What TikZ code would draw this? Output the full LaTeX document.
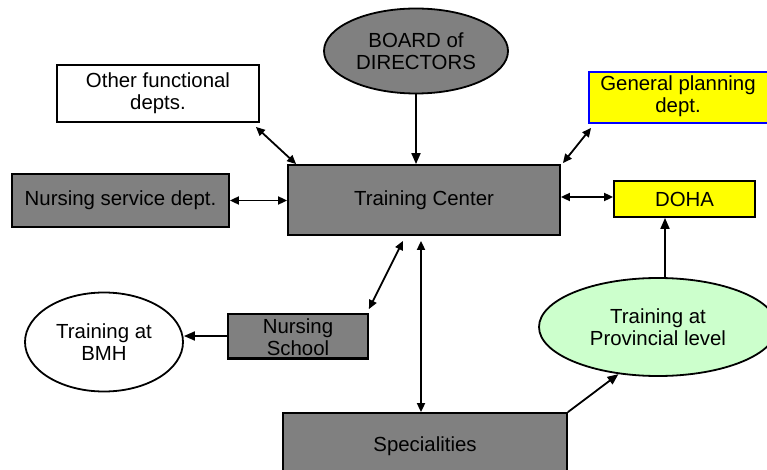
\documentclass[tikz,border=0pt]{standalone}
\usepackage{fontspec}
\setmainfont{Liberation Sans}
\usetikzlibrary{shapes.geometric,arrows.meta,calc}
\definecolor{boxgray}{HTML}{808080}
\definecolor{provgreen}{HTML}{CCFFCC}
\definecolor{dohayellow}{HTML}{FFFF00}
\definecolor{gpblue}{HTML}{0000FF}
\begin{document}
\begin{tikzpicture}[x=1pt,y=-1pt,
  every node/.style={font=\fontsize{20.4}{22}\selectfont, align=center, inner sep=0pt},
  rbox/.style={draw=black, line width=1.8pt, rectangle},
  ebox/.style={draw=black, line width=1.8pt, ellipse},
  conn/.style={line width=1.8pt, -{Triangle[length=11pt,width=9pt]}},
  biconn/.style={line width=1.8pt, {Triangle[length=9pt,width=8pt]}-{Triangle[length=9pt,width=8pt]}},
]
\useasboundingbox (0,0) rectangle (767,470);

\node[ebox, fill=boxgray, minimum width=184, minimum height=85] (bod) at (416,51) {BOARD of\\DIRECTORS};
\node[rbox, fill=boxgray, minimum width=272, minimum height=70] (tc) at (424,200) {Training Center};
\node[rbox, fill=white, minimum width=202, minimum height=57] (other) at (158,93.5) {Other functional\\depts.};
\node[rbox, fill=boxgray, minimum width=217, minimum height=53] (nsd) at (120.5,200.5) {Nursing service dept.};
\node[rbox, draw=gpblue, fill=dohayellow, minimum width=184, minimum height=51] (gp) at (681,97.5) {};
\node (gptext) at (678,96.5) {General planning\\dept.};
\node[rbox, fill=dohayellow, minimum width=141, minimum height=36] (doha) at (684.5,199) {DOHA};
\node[ebox, fill=provgreen, minimum width=238, minimum height=98] (prov) at (658,327) {Training at\\Provincial level};
\node[rbox, fill=boxgray, minimum width=140, minimum height=44] (ns) at (298,336) {};
\node (nstext) at (298,337) {Nursing\\School};
\draw[line width=1.8pt] (ns.south west) -- (ns.south east);
\node[ebox, fill=white, minimum width=158, minimum height=99] (bmh) at (104,342) {Training at\\BMH};
\node[rbox, fill=boxgray, minimum width=284, minimum height=66] (spec) at (425,446) {Specialities};

\coordinate (provtop) at ($(prov.north)+(7,0)$);

\draw[conn] (bod.south) -- (bod.south |- tc.north);
\draw[biconn] ($(other.south east)+(-4,4)$) -- ($(tc.north west)+(9,0)$);
\draw[biconn] (nsd.east) -- (nsd.east -| tc.west);
\draw[biconn] ($(gp.south west)+(3,4)$) -- ($(tc.north east)+(2,-1)$);
\draw[biconn] ($(doha.west -| tc.east)+(0,-2)$) -- ($(doha.west)+(0,-2)$);
\draw[conn] (provtop) -- (provtop |- doha.south);
\draw[biconn] ($(tc.south)+(-3,5)$) -- ($(spec.north)+(-4,0)$);
\draw[conn] (spec.north east) -- (prov.230);
\draw[biconn] ($(ns.north east)+(0,-4)$) -- ($(tc.south)+(-21,5)$);
\draw[conn] (ns.west) -- (ns.west -| bmh.east);
\end{tikzpicture}
\end{document}
